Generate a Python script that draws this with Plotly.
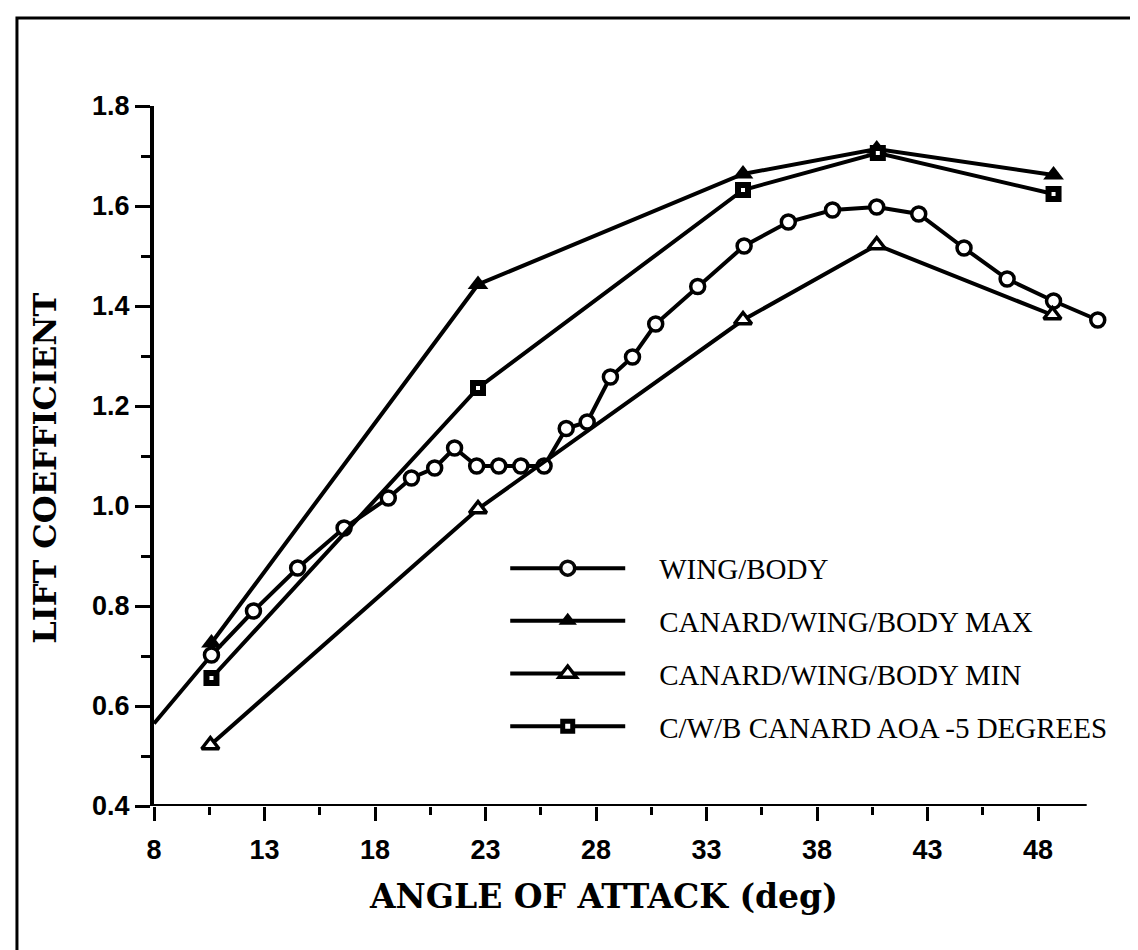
import plotly.graph_objects as go

# angle of attack (deg) and lift coefficient
wing_body_aoa = [8.0, 10.6, 12.5, 14.5, 16.6, 18.6, 19.65, 20.7, 21.6, 22.6, 23.6, 24.6,
                 25.65, 26.65, 27.6, 28.65, 29.65, 30.7, 32.6, 34.7, 36.7, 38.7, 40.7,
                 42.6, 44.65, 46.6, 48.7, 50.7]
wing_body_cl = [0.565, 0.702, 0.79, 0.876, 0.956, 1.016, 1.056, 1.076, 1.116, 1.08, 1.08, 1.08,
                1.08, 1.155, 1.168, 1.258, 1.298, 1.364, 1.439, 1.52, 1.568, 1.592, 1.598,
                1.584, 1.516, 1.454, 1.41, 1.372]
# first wing/body point has no symbol drawn
wing_body_marker_opacity = [0] + [1] * (len(wing_body_aoa) - 1)

cwb_max_aoa = [10.6, 22.66, 34.65, 40.7, 48.7]
cwb_max_cl = [0.726, 1.443, 1.664, 1.714, 1.662]

cwb_min_aoa = [10.55, 22.66, 34.65, 40.7, 48.65]
cwb_min_cl = [0.522, 0.994, 1.372, 1.522, 1.382]

cwb_m5_aoa = [10.6, 22.66, 34.65, 40.75, 48.7]
cwb_m5_cl = [0.656, 1.236, 1.632, 1.706, 1.624]

series_names = [
    "WING/BODY",
    "CANARD/WING/BODY MAX",
    "CANARD/WING/BODY MIN",
    "C/W/B CANARD AOA -5 DEGREES",
]

x_major_ticks = [8, 13, 18, 23, 28, 33, 38, 43, 48]
x_minor_ticks = [10.5, 15.5, 20.5, 25.5, 30.5, 35.5, 40.5, 45.5]
x_axis_end = 50.2

BLACK = "black"
LW = 4
PAD = "\u00a0" * 4  # gap between legend sample and label


def add_series(fig, x, y, name, marker):
    fig.add_trace(
        go.Scatter(
            x=x,
            y=y,
            mode="lines+markers",
            name=PAD + name,
            legendgroup=name,
            line=dict(color=BLACK, width=LW),
            marker=marker,
            cliponaxis=False,
        )
    )


fig = go.Figure()
add_series(fig, wing_body_aoa, wing_body_cl, series_names[0],
           dict(symbol="circle", size=14, color="white", opacity=wing_body_marker_opacity,
                line=dict(color=BLACK, width=3.5)))
add_series(fig, cwb_max_aoa, cwb_max_cl, series_names[1],
           dict(symbol="triangle-up", size=18, color=BLACK, line=dict(width=0)))
add_series(fig, cwb_min_aoa, cwb_min_cl, series_names[2],
           dict(symbol="triangle-up", size=15, color="white", line=dict(color=BLACK, width=3.5)))
add_series(fig, cwb_m5_aoa, cwb_m5_cl, series_names[3],
           dict(symbol="square", size=10, color="white", line=dict(color=BLACK, width=6)))

tick_font = dict(family="Liberation Sans", size=27, color=BLACK, weight="bold")
title_font_x = dict(family="DejaVu Serif", size=33, color=BLACK, weight="bold")
title_font_y = dict(family="DejaVu Serif", size=32, color=BLACK, weight="bold")

fig.update_xaxes(
    range=[8, 51.3],
    tickvals=x_major_ticks,
    ticks="outside", ticklen=14, tickwidth=3, tickcolor=BLACK,
    minor=dict(tickvals=x_minor_ticks, ticks="outside", ticklen=8, tickwidth=3, tickcolor=BLACK),
    showline=False, showgrid=False, zeroline=False,
    tickfont=tick_font, ticklabelstandoff=6,
)
fig.update_yaxes(
    range=[0.4, 1.8],
    tick0=0.4, dtick=0.2, tickformat=".1f",
    ticks="outside", ticklen=15, tickwidth=3, tickcolor=BLACK,
    minor=dict(dtick=0.1, ticks="outside", ticklen=9, tickwidth=3, tickcolor=BLACK),
    showline=True, linewidth=LW, linecolor=BLACK,
    showgrid=False, zeroline=False,
    tickfont=tick_font, ticklabelstandoff=0,
)

# axis titles
fig.add_annotation(text="ANGLE OF ATTACK (deg)", xref="paper", yref="paper",
                   x=0.470, y=-0.129, xanchor="center", yanchor="middle",
                   showarrow=False, font=title_font_x)
fig.add_annotation(text="LIFT COEFFICIENT", xref="paper", yref="paper",
                   x=-0.114, y=0.483, xanchor="center", yanchor="middle",
                   textangle=-90, showarrow=False, font=title_font_y)

# x axis line stops short of the last wing/body point
fig.add_shape(type="line", xref="x", yref="y", x0=8, x1=x_axis_end, y0=0.4, y1=0.4,
              line=dict(color=BLACK, width=LW))

# outer page frame (top and left edges only)
fig.add_shape(type="path", xref="paper", yref="paper",
              path="M -0.1432 -0.25 L -0.1432 1.1257 L 1.05 1.1257",
              line=dict(color=BLACK, width=3))

fig.update_layout(
    width=1138,
    height=950,
    margin=dict(l=146, r=35, t=98, b=152),
    plot_bgcolor="white",
    paper_bgcolor="white",
    showlegend=True,
    legend=dict(
        x=0.367, y=0.376, xanchor="left", yanchor="top",
        font=dict(family="Liberation Serif", size=29, color=BLACK),
        itemwidth=115,
        bgcolor="rgba(0,0,0,0)",
        tracegroupgap=12,
    ),
)

fig.write_html("out.html")
